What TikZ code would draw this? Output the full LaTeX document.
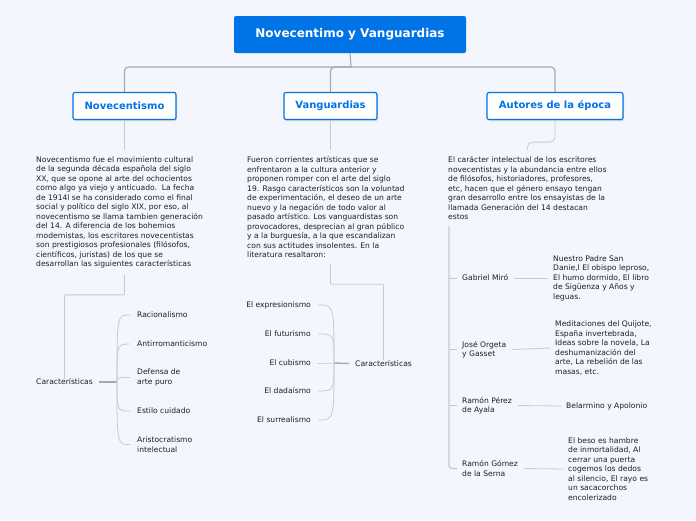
\documentclass[tikz,border=0pt]{standalone}
\usepackage{fontspec}
\setmainfont{DejaVu Sans}
\usepackage{tikz}
\usetikzlibrary{shadows}
\usepackage{xcolor}
\definecolor{mapblue}{RGB}{0,115,230}
\definecolor{mapbg}{RGB}{244,246,254}
\definecolor{maptext}{RGB}{30,30,34}
\definecolor{mapline}{RGB}{168,168,176}
\definecolor{mapthin}{RGB}{200,200,208}

\begin{document}
\begin{tikzpicture}[x=1pt, y=-1pt,
    rootbox/.style={fill=mapblue, text=white, rounded corners=2pt, minimum width=232pt, minimum height=37pt, font=\fontsize{12}{14}\selectfont\bfseries},
    topicbox/.style={draw=mapblue, line width=1.2pt, fill=white, rounded corners=2pt, minimum height=27pt, text=mapblue, font=\fontsize{10}{12}\selectfont\bfseries, drop shadow={shadow xshift=1pt, shadow yshift=-1.5pt, opacity=0.25}},
    para/.style={anchor=north west, inner sep=0pt, outer ysep=6.5pt, align=left, text=maptext, font=\fontsize{7.6}{9.5}\selectfont},
    leaf/.style={inner sep=0pt, align=left, text=maptext, font=\fontsize{7.6}{9.5}\selectfont},
    trunk/.style={draw=mapline, line width=1.2pt, rounded corners=4pt},
    twig/.style={draw=mapthin, line width=0.8pt},
    stem/.style={draw=mapline, line width=1.4pt}]
\fill[mapbg] (0,0) rectangle (696,520);

\node[rootbox] (root) at (350,34.5) {Novecentimo y Vanguardias};
\node[topicbox, minimum width=103pt] (nov) at (124.5,106) {Novecentismo};
\node[topicbox, minimum width=93pt] (van) at (330.5,106) {Vanguardias};
\node[topicbox, minimum width=136pt] (aut) at (555,106) {Autores de la época};
\draw[trunk] (root.south) -- (351,67);
\draw[trunk] (nov.north) |- (555,67) -- (aut.north);
\draw[trunk] (van.north) |- (351,67);

\node[para] (novtxt) at (36,150) {Novecentismo fue el movimiento cultural\\de la segunda década española del siglo\\XX, que se opone al arte del ochocientos\\como algo ya viejo y anticuado.\ \ La fecha\\de 1914l se ha considerado como el final\\social y político del siglo XIX, por eso, al\\novecentismo se llama tambien generación\\del 14. A diferencia de los bohemios\\modernistas, los escritores novecentistas\\son prestigiosos profesionales (filósofos,\\científicos, juristas) de los que se\\desarrollan las siguientes características};
\node[para] (vantxt) at (247,150) {Fueron corrientes artísticas que se\\enfrentaron a la cultura anterior y\\proponen romper con el arte del siglo\\19. Rasgo característicos son la voluntad\\de experimentación, el deseo de un arte\\nuevo y la negación de todo valor al\\pasado artístico. Los vanguardistas son\\provocadores, desprecian al gran público\\y a la burguesía, a la que escandalizan\\con sus actitudes insolentes. En la\\literatura resaltaron:};
\node[para] (auttxt) at (448,150) {El carácter intelectual de los escritores\\novecentistas y la abundancia entre ellos\\de filósofos, historiadores, profesores,\\etc, hacen que el género ensayo tengan\\gran desarrollo entre los ensayistas de la\\llamada Generación del 14 destacan\\estos};
\draw[twig] (nov.south) -- (nov.south |- novtxt.north);
\draw[twig] (van.south) -- (van.south |- vantxt.north);
\draw[twig, rounded corners=5pt] (aut.south) -- ++(0,22) -| (auttxt.north);

% caracteristicas del novecentismo
\node[leaf, anchor=west] (novcar) at (36,382) {Características};
\draw[twig, rounded corners=1pt] (novtxt.south -| nov.south) -- ++(0,20) -| (novcar.north);
\coordinate (ns) at (117,382);
\draw[stem] ([xshift=6pt]novcar.east) -- (ns);
\foreach \i/\y/\txt in {1/315/Racionalismo, 2/344/Antirromanticismo, 3/377.5/{Defensa de\\arte puro}, 4/411/Estilo cuidado, 5/444.5/{Aristocratismo\\intelectual}} {
    \node[leaf, anchor=west] (nc\i) at (137,\y) {\txt};
    \draw[twig] (ns) .. controls (ns |- nc\i.west) .. ([xshift=-7pt]nc\i.west);
}

% caracteristicas de las vanguardias
\node[leaf, anchor=west] (vancar) at (355,363.5) {Características};
\draw[twig, rounded corners=1pt] (vantxt.south -| van.south) -- ++(0,20) -| (vancar.north);
\coordinate (vs) at (334,363);
\draw[stem] ([xshift=-6pt]vancar.west) -- (vs);
\foreach \i/\y/\txt in {1/305/El expresionismo, 2/334/El futurismo, 3/363/El cubismo, 4/391/El dadaísmo, 5/420/El surrealismo} {
    \node[leaf, anchor=east] (vc\i) at (311,\y) {\txt};
    \draw[twig] (vs) .. controls (vs |- vc\i.east) .. ([xshift=7pt]vc\i.east);
}

% autores y obras
\coordinate (atrunk) at (449,226);
\foreach \i/\y/\who/\wx/\wy/\works in {1/278/Gabriel Miró/553/278/{Nuestro Padre San\\Danie,l El obispo leproso,\\El humo dormido, El libro\\de Sigüenza y Años y\\leguas.}, 2/349.5/{José Orgeta\\y Gasset}/555/348/{Meditaciones del Quijote,\\España invertebrada,\\Ideas sobre la novela, La\\deshumanización del\\arte, La rebelión de las\\masas, etc.}, 3/405.5/{Ramón Pérez\\de Ayala}/566/406/Belarmino y Apolonio, 4/468.5/{Ramón Gómez\\de la Serna}/568/469/{El beso es hambre\\de inmortalidad, Al\\cerrar una puerta\\cogemos los dedos\\al silencio, El rayo es\\un sacacorchos\\encolerizado}} {
    \node[leaf, anchor=west] (au\i) at (462,\y) {\who};
    \node[leaf, anchor=west] (wk\i) at (\wx,\wy) {\works};
    \draw[twig] ([xshift=6pt]au\i.east) -- ([xshift=-5pt]wk\i.west);
}
\draw[twig, line width=1.2pt, rounded corners=3pt] (atrunk) |- ([xshift=-5pt]au4.west);
\foreach \i in {1,2,3}
    \draw[twig] (atrunk |- au\i.west) -- ([xshift=-5pt]au\i.west);
\end{tikzpicture}
\end{document}
